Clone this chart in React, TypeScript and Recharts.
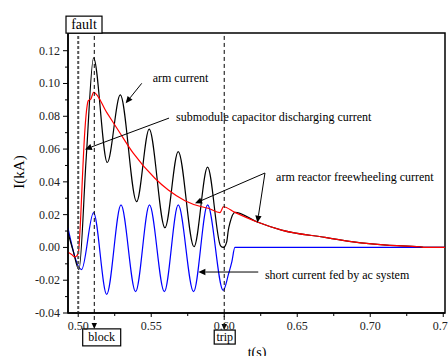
import React from 'react';
import { LineChart, Line, XAxis, YAxis, ReferenceLine, ReferenceDot, ReferenceArea } from 'recharts';

// ---- data (time in s, current in kA) ----
const armCurrent: [number, number][] = [
  [0.4930, 0.0090], [0.4965, -0.0020], [0.5005, -0.0135], [0.5055, 0.0550], [0.5105, 0.1157],
  [0.5199, 0.0518], [0.5288, 0.0930], [0.5400, 0.0279], [0.5486, 0.0722], [0.5594, 0.0120],
  [0.5685, 0.0585], [0.5793, 0.0004], [0.5886, 0.0490], [0.5975, 0.0010], [0.5995, 0.0000],
  [0.6017, 0.0034], [0.6028, 0.0106], [0.6039, 0.0149], [0.6073, 0.0214], [0.6222, 0.0157],
  [0.6393, 0.0106], [0.6690, 0.0061], [0.6884, 0.0034], [0.7113, 0.0014], [0.7341, 0.0004],
  [0.7375, 0.0000], [0.7512, 0.0000],
];
const capacitorCurrent: [number, number][] = [
  [0.4930, -0.0030], [0.4955, -0.0043], [0.4977, -0.0058], [0.5000, -0.0037], [0.5012, 0.0100],
  [0.5030, 0.0450], [0.5039, 0.0616], [0.5053, 0.0800], [0.5069, 0.0895], [0.5087, 0.0906],
  [0.5105, 0.0946], [0.5195, 0.0824], [0.5286, 0.0698], [0.5377, 0.0575], [0.5525, 0.0422],
  [0.5617, 0.0350], [0.5731, 0.0285], [0.5845, 0.0248], [0.5890, 0.0239], [0.5971, 0.0212],
  [0.5982, 0.0228], [0.5993, 0.0248], [0.6073, 0.0214], [0.6222, 0.0157], [0.6393, 0.0106],
  [0.6690, 0.0061], [0.6884, 0.0034], [0.7113, 0.0014], [0.7341, 0.0004], [0.7375, 0.0000],
  [0.7512, 0.0000],
];
const acCurrent: [number, number][] = [
  [0.4930, 0.0118], [0.5023, -0.0135], [0.5105, 0.0212], [0.5195, -0.0286], [0.5293, 0.0259],
  [0.5393, -0.0270], [0.5488, 0.0259], [0.5590, -0.0270], [0.5685, 0.0259], [0.5790, -0.0270],
  [0.5886, 0.0259], [0.5993, -0.0262], [0.6030, -0.0160], [0.6052, -0.0088], [0.6073, 0.0000],
  [0.7512, 0.0000],
];

const xMajor = [0.5, 0.55, 0.6, 0.65, 0.7, 0.75];
const xMinor = [0.525, 0.575, 0.625, 0.675, 0.725];
const yMajor = [-0.04, -0.02, 0.0, 0.02, 0.04, 0.06, 0.08, 0.1, 0.12];
const yMinor = [-0.03, -0.01, 0.01, 0.03, 0.05, 0.07, 0.09, 0.11];

const X_DOMAIN: [number, number] = [0.493, 0.7512];
const Y_DOMAIN: [number, number] = [-0.04, 0.1308];

const tFault = 0.5;
const tBlock = 0.511;
const tTrip = 0.6;

const toRows = (s: [number, number][]) => s.map(([t, v]) => ({ t, v }));

const SERIF = '"Liberation Serif", "Times New Roman", Times, serif';

const isMajor = (v: number, step: number) => Math.abs(v / step - Math.round(v / step)) < 1e-6;

const YTick = (p: any) => {
  const { x, y, payload } = p;
  const v = payload.value as number;
  const major = isMajor(v, 0.02);
  return (
    <g>
      <line x1={x - (major ? 5 : 3)} x2={x} y1={y} y2={y} stroke="#000" strokeWidth={1} />
      {major && (
        <text x={x - 8} y={y + 4} textAnchor="end" fontSize={12} fontFamily={SERIF} fill="#222">
          {v.toFixed(2)}
        </text>
      )}
    </g>
  );
};

const XTick = (p: any) => {
  const { x, y, payload } = p;
  const v = payload.value as number;
  const major = isMajor(v, 0.05);
  return (
    <g>
      <line x1={x} x2={x} y1={y} y2={y + (major ? 4 : 3)} stroke="#000" strokeWidth={1} />
      {major && (
        <text x={x} y={y + 16.5} textAnchor="middle" fontSize={12} fontFamily={SERIF} fill="#222">
          {v.toFixed(2)}
        </text>
      )}
    </g>
  );
};

const arrowShape = (opts: { dash?: string; color?: string; width?: number; head?: number }) => (p: any) => {
  const { x1, y1, x2, y2 } = p;
  const color = opts.color ?? '#000';
  const head = opts.head ?? 6;
  const ang = Math.atan2(y2 - y1, x2 - x1);
  const hw = head * 0.45;
  const bx = x2 - head * Math.cos(ang);
  const by = y2 - head * Math.sin(ang);
  const px = -Math.sin(ang) * hw;
  const py = Math.cos(ang) * hw;
  return (
    <g>
      <line x1={x1} y1={y1} x2={bx} y2={by} stroke={color} strokeWidth={opts.width ?? 1} strokeDasharray={opts.dash} />
      <polygon points={`${x2},${y2} ${bx + px},${by + py} ${bx - px},${by - py}`} fill={color} />
    </g>
  );
};

const plainLine = (opts: { dash?: string; color?: string; width?: number }) => (p: any) => (
  <line x1={p.x1} y1={p.y1} x2={p.x2} y2={p.y2} stroke={opts.color ?? '#000'} strokeWidth={opts.width ?? 1} strokeDasharray={opts.dash} />
);

const textShape = (text: string, size: number, anchor: 'start' | 'middle' | 'end' = 'start', rotate = 0) => (p: any) => (
  <text
    x={p.cx}
    y={p.cy}
    fontSize={size}
    fontFamily={SERIF}
    textAnchor={anchor}
    fill="#000"
    transform={rotate ? `rotate(${rotate} ${p.cx} ${p.cy})` : undefined}
  >
    {text}
  </text>
);

const boxShape = (text: string, w: number, h: number, size: number) => (p: any) => (
  <g>
    <rect x={p.cx - w / 2} y={p.cy - h / 2} width={w} height={h} fill="#fff" stroke="#000" strokeWidth={1.2} />
    <text x={p.cx} y={p.cy + size * 0.32} textAnchor="middle" fontSize={size} fontFamily={SERIF} fill="#000">
      {text}
    </text>
  </g>
);

export default function App() {
  return (
    <div style={{ position: 'absolute', left: 0, top: 0, background: '#fff' }}>
      <LineChart width={448} height={356} margin={{ top: 33, right: 3, left: 8, bottom: 13 }}>
        <XAxis
          type="number"
          dataKey="t"
          domain={X_DOMAIN}
          allowDataOverflow
          ticks={[...xMajor, ...xMinor].sort((a, b) => a - b)}
          interval={0}
          tickSize={0}
          tickMargin={0}
          tickLine={false}
          tick={<XTick />}
          height={30}
          axisLine={{ stroke: '#000', strokeWidth: 1.5 }}
        />
        <YAxis
          type="number"
          domain={Y_DOMAIN}
          allowDataOverflow
          ticks={[...yMajor, ...yMinor].sort((a, b) => a - b)}
          interval={0}
          tickSize={0}
          tickMargin={0}
          tickLine={false}
          tick={<YTick />}
          width={60}
          axisLine={{ stroke: '#000', strokeWidth: 1.5 }}
        />
        <ReferenceArea
          x1={X_DOMAIN[0]} x2={X_DOMAIN[1]} y1={Y_DOMAIN[0]} y2={Y_DOMAIN[1]}
          ifOverflow="visible" fill="none" fillOpacity={0} stroke="#000" strokeWidth={1.5}
        />

        <Line data={toRows(acCurrent)} dataKey="v" type="monotone" stroke="#0000ff" strokeWidth={1.2} dot={false} isAnimationActive={false} />
        <Line data={toRows(armCurrent)} dataKey="v" type="monotone" stroke="#000000" strokeWidth={1.2} dot={false} isAnimationActive={false} />
        <Line data={toRows(capacitorCurrent)} dataKey="v" type="monotone" stroke="#ff0000" strokeWidth={1.2} dot={false} isAnimationActive={false} />

        {/* event lines */}
        <ReferenceLine segment={[{ x: tFault, y: 0.129 }, { x: tFault, y: -0.04 }]} ifOverflow="visible" shape={plainLine({ dash: '3 2', color: '#555', width: 2 })} />
        <ReferenceLine segment={[{ x: tBlock, y: 0.129 }, { x: tBlock, y: -0.0498 }]} ifOverflow="visible" shape={arrowShape({ dash: '4 3', head: 6 })} />
        <ReferenceLine segment={[{ x: tTrip, y: 0.129 }, { x: tTrip, y: -0.0504 }]} ifOverflow="visible" shape={arrowShape({ dash: '4 3', head: 6 })} />

        {/* annotation arrows */}
        <ReferenceLine segment={[{ x: 0.5435, y: 0.1001 }, { x: 0.5325, y: 0.0879 }]} ifOverflow="visible" shape={arrowShape({ head: 7 })} />
        <ReferenceLine segment={[{ x: 0.5622, y: 0.0789 }, { x: 0.5046, y: 0.0598 }]} ifOverflow="visible" shape={arrowShape({ head: 7 })} />
        <ReferenceLine segment={[{ x: 0.6279, y: 0.0454 }, { x: 0.5800, y: 0.0269 }]} ifOverflow="visible" shape={arrowShape({ head: 7 })} />
        <ReferenceLine segment={[{ x: 0.6279, y: 0.0454 }, { x: 0.6227, y: 0.0151 }]} ifOverflow="visible" shape={arrowShape({ head: 7 })} />
        <ReferenceLine segment={[{ x: 0.6233, y: -0.0150 }, { x: 0.5823, y: -0.0150 }]} ifOverflow="visible" shape={arrowShape({ head: 7 })} />

        {/* annotation texts */}
        <ReferenceDot x={0.5510} y={0.1009} ifOverflow="visible" shape={textShape('arm current', 12)} />
        <ReferenceDot x={0.5670} y={0.0771} ifOverflow="visible" shape={textShape('submodule capacitor discharging current', 12)} />
        <ReferenceDot x={0.6355} y={0.0408} ifOverflow="visible" shape={textShape('arm reactor freewheeling current', 12)} />
        <ReferenceDot x={0.6279} y={-0.0193} ifOverflow="visible" shape={textShape('short current fed by ac system', 12)} />

        {/* event boxes */}
        <ReferenceDot x={0.50396} y={0.1359} ifOverflow="visible" shape={boxShape('fault', 36, 17, 14)} />
        <ReferenceDot x={0.51608} y={-0.05487} ifOverflow="visible" shape={boxShape('block', 38, 17, 12)} />
        <ReferenceDot x={0.60033} y={-0.05468} ifOverflow="visible" shape={boxShape('trip', 21, 14, 12)} />

        {/* axis titles */}
        <ReferenceDot x={0.4628} y={0.0460} ifOverflow="visible" shape={textShape('I(kA)', 15, 'middle', -90)} />
        <ReferenceDot x={0.6225} y={-0.0669} ifOverflow="visible" shape={textShape('t(s)', 14, 'middle')} />
      </LineChart>
    </div>
  );
}
